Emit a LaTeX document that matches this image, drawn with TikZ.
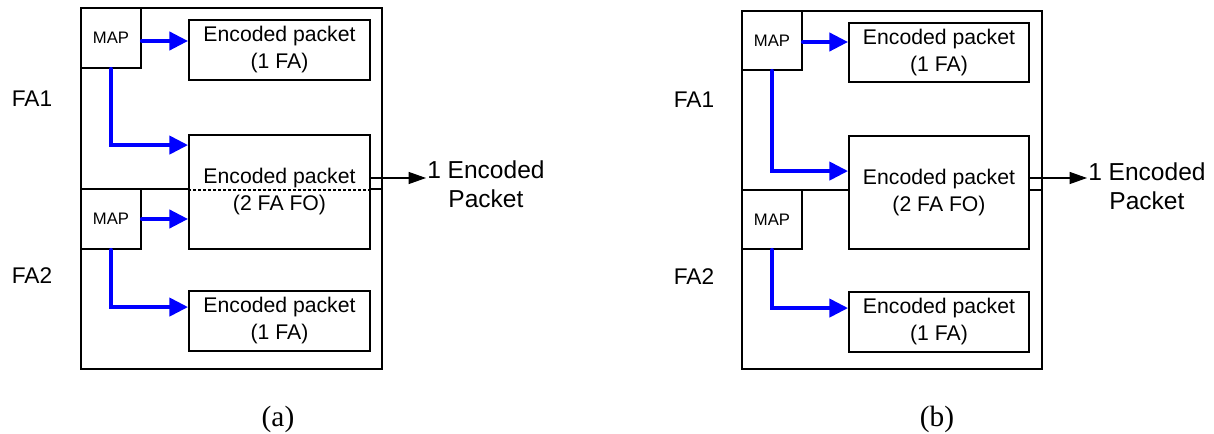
\documentclass[tikz,border=0pt]{standalone}
\usepackage{fontspec}
\setmainfont{Liberation Sans}
\newfontfamily\serifcap{Liberation Serif}
\usetikzlibrary{arrows.meta,calc}
\begin{document}
\begin{tikzpicture}[x=0.75pt,y=-0.75pt,
  sz/.style 2 args={minimum width=#1*0.75pt, minimum height=#2*0.75pt},
  box/.style={draw, line width=1.4pt, inner sep=0pt, align=center},
  ep/.style={box, fill=white, font=\fontsize{15.9}{20.25}\selectfont},
  mapbox/.style={box, font=\fontsize{12.5}{15}\selectfont},
  bluearrow/.style={draw=blue, line width=3pt, line cap=round, -{Triangle[length=14pt,width=13.5pt]}},
  outarrow/.style={line width=0.8pt, -{Triangle[length=13pt,width=9pt]}},
  lbl/.style={inner sep=0pt, font=\fontsize{17}{20}\selectfont},
  outlbl/.style={inner sep=0pt, align=center, font=\fontsize{18.4}{21.75}\selectfont},
  caplbl/.style={inner sep=0pt, font=\serifcap\fontsize{22}{26}\selectfont}]
\useasboundingbox (0,0) rectangle (1214,434);

% ---------------- panel (a) ----------------
\node[box, sz={301}{181}] (outA1) at (231.5,98.5) {};
\node[box, sz={301}{180}] (outA2) at (231.5,279) {};
\node[mapbox, sz={60}{60}] (mapA1) at (111,38) {MAP};
\node[mapbox, sz={60}{60}] (mapA2) at (111,219) {MAP};
\node[ep, sz={181}{60}] (epA1) at (279.5,50) {Encoded packet\\(1 FA)};
\node[ep, sz={181}{114}] (bigA) at (279.5,192) {Encoded packet\\(2 FA FO)};
\node[ep, sz={181}{60}] (epA3) at (279.5,321) {Encoded packet\\(1 FA)};
\draw[line width=1.4pt, dash pattern=on 2.25pt off 1.5pt] (bigA.west |- outA1.south) -- (bigA.east |- outA1.south);

\coordinate (sA1) at ($(mapA1.east)+(0,3)$);
\coordinate (eA1) at ($(bigA.north west)+(0,11)$);
\coordinate (eA3) at ($(epA3.north west)+(0,17)$);
\draw[bluearrow] (sA1) -- (sA1 -| epA1.west);
\draw[bluearrow] (mapA1.south) |- (eA1);
\draw[bluearrow] (mapA2.east) -- (mapA2.east -| bigA.west);
\draw[bluearrow] (mapA2.south) |- (eA3);

\node[lbl] (faA1) at (32,99) {FA1};
\node[lbl] (faA2) at (32,276) {FA2};

\node[outlbl, anchor=west] (outlblA) at (427,184.5) {1 Encoded\\Packet};
\coordinate (tipA) at (426,178);
\coordinate (sOA) at ($(bigA.east)+(0,-14)$);
\draw[outarrow] (sOA) -- (tipA);

\node[caplbl] (capA) at (278,419) {(a)};

% ---------------- panel (b) ----------------
\node[box, sz={300}{179}] (outB1) at (892,100.5) {};
\node[box, sz={300}{179}] (outB2) at (892,279.5) {};
\node[mapbox, sz={60}{59}] (mapB1) at (772,40.5) {MAP};
\node[mapbox, sz={60}{59}] (mapB2) at (772,219.5) {MAP};
\node[ep, sz={180}{59}] (epB1) at (939,52.5) {Encoded packet\\(1 FA)};
\node[ep, sz={180}{113}] (bigB) at (939,192.5) {Encoded packet\\(2 FA FO)};
\node[ep, sz={180}{60}] (epB3) at (939,322) {Encoded packet\\(1 FA)};

\coordinate (sB1) at ($(mapB1.east)+(0,1.5)$);
\coordinate (eB1) at ($(bigB.north west)+(0,36)$);
\coordinate (eB3) at ($(epB3.north west)+(0,17)$);
\draw[bluearrow] (sB1) -- (sB1 -| epB1.west);
\draw[bluearrow] (mapB1.south) |- (eB1);
\draw[bluearrow] (mapB2.south) |- (eB3);

\node[lbl] (faB1) at (694,100) {FA1};
\node[lbl] (faB2) at (694,277) {FA2};

\node[outlbl, anchor=west] (outlblB) at (1088,186) {1 Encoded\\Packet};
\coordinate (tipB) at (1087,178);
\coordinate (sOB) at ($(bigB.east)+(0,-14.5)$);
\draw[outarrow] (sOB) -- (tipB);

\node[caplbl] (capB) at (937,419) {(b)};
\end{tikzpicture}
\end{document}
